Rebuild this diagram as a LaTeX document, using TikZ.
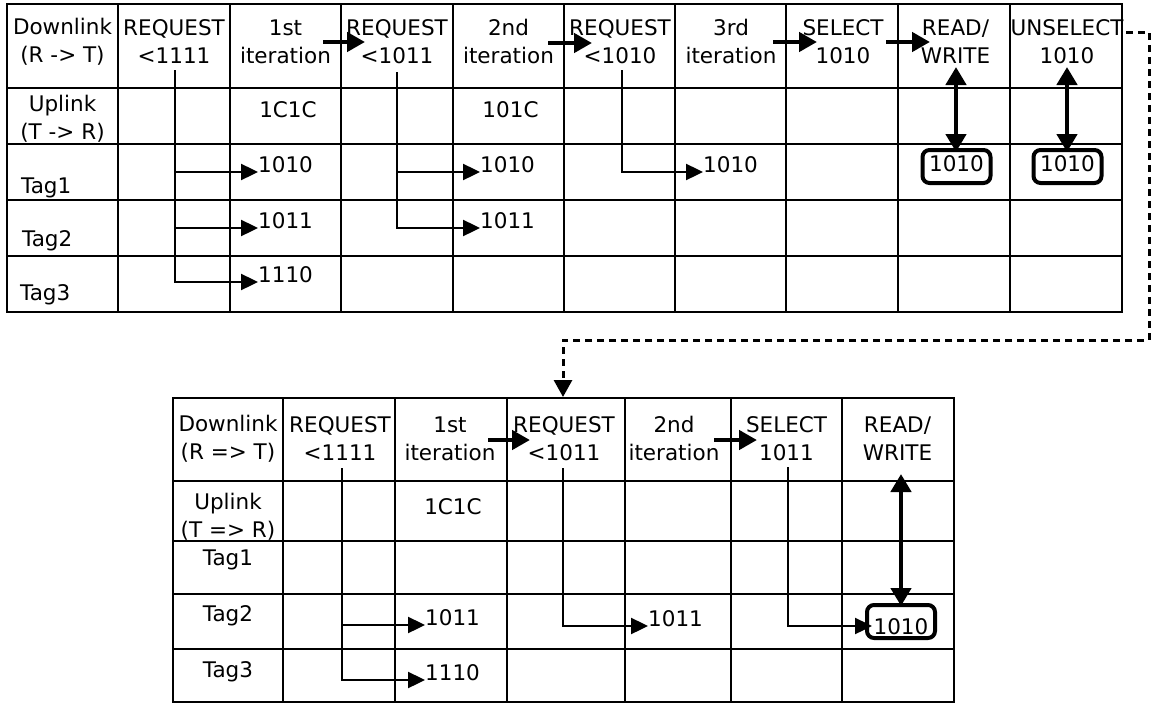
\documentclass[tikz,border=0pt]{standalone}
\usepackage{fontspec}
\setmainfont{DejaVu Sans}
\usetikzlibrary{arrows.meta,calc}
\begin{document}
\begin{tikzpicture}[x=1pt,y=-1pt,
  grid/.style={line width=2.4pt, line cap=rect},
  txt/.style={inner sep=0pt, align=center, font=\fontsize{21.5}{28}\selectfont},
  conn/.style={line width=2.4pt, -{Triangle[length=17pt,width=16pt]}},
  hdarrow/.style={line width=4.5pt, -{Triangle[length=18pt,width=19pt]}},
  dblarrow/.style={line width=4.5pt, {Triangle[length=18pt,width=20pt]}-{Triangle[length=18pt,width=20pt]}},
  valbox/.style={draw, line width=4pt, rounded corners=7pt, minimum width=68pt, minimum height=33pt, inner sep=0pt, font=\fontsize{21.5}{28}\selectfont},
  dashedconn/.style={line width=3pt, dash pattern=on 7pt off 5pt, -{Triangle[length=17pt,width=18pt]}}
]
\useasboundingbox (0,0) rectangle (1152,704);

% ---------- top table grid ----------
\foreach \x in {7,118,230,341,453,564,675,786,898,1010,1122} \draw[grid] (\x,4) -- (\x,312);
\foreach \y in {4,88,144,200,256,312} \draw[grid] (7,\y) -- (1122,\y);

% header row
\node[txt] (d1) at (62.5,41.5) {Downlink\\(R -> T)};
\node[txt] (r1) at (174,41.5) {REQUEST\\<1111};
\node[txt] (i1) at (285.5,41.5) {1st\\iteration};
\node[txt] (r2) at (397,41.5) {REQUEST\\<1011};
\node[txt] (i2) at (508.5,41.5) {2nd\\iteration};
\node[txt] (r3) at (620,41.5) {REQUEST\\<1010};
\node[txt] (i3) at (731,41.5) {3rd\\iteration};
\node[txt] (s1) at (843,41.5) {SELECT\\1010};
\node[txt] (rw1) at (955.5,41.5) {READ/\\WRITE};
\node[txt] (u1) at (1067,41.5) {UNSELECT\\1010};

% uplink row
\node[txt] (ul1) at (62.5,118.5) {Uplink\\(T -> R)};
\node[txt] (up1) at (288,110) {1C1C};
\node[txt] (up2) at (510.5,110) {101C};

% tags
\node[txt, anchor=base west] (tag1) at (21,193) {Tag1};
\node[txt, anchor=base west] (tag2) at (22,246) {Tag2};
\node[txt, anchor=base west] (tag3) at (20,300) {Tag3};

% header arrows
\coordinate (h1s) at (323,42); \coordinate (h1e) at (365,42);
\coordinate (h2s) at (548,43); \coordinate (h2e) at (592,43);
\coordinate (h3s) at (773,42); \coordinate (h3e) at (817,42);
\coordinate (h4s) at (886,42); \coordinate (h4e) at (930,42);
\draw[hdarrow] (h1s) -- (h1e);
\draw[hdarrow] (h2s) -- (h2e);
\draw[hdarrow] (h3s) -- (h3e);
\draw[hdarrow] (h4s) -- (h4e);

% request <1111 branches
\coordinate (q1) at (175,70);
\node[txt, anchor=base west] (a11) at (258,172) {1010};
\node[txt, anchor=base west] (a12) at (258,228) {1011};
\node[txt, anchor=base west] (a13) at (258,282) {1110};
\draw[conn] (q1) |- (a13.base west);
\draw[conn] (q1 |- a11.base west) -- (a11.base west);
\draw[conn] (q1 |- a12.base west) -- (a12.base west);

% request <1011 branches
\coordinate (q2) at (397,72);
\node[txt, anchor=base west] (a21) at (480,172) {1010};
\node[txt, anchor=base west] (a22) at (480,228) {1011};
\draw[conn] (q2) |- (a22.base west);
\draw[conn] (q2 |- a21.base west) -- (a21.base west);

% request <1010 branch
\coordinate (q3) at (622,70);
\node[txt, anchor=base west] (a31) at (703,172) {1010};
\draw[conn] (q3) |- (a31.base west);

% selected tag boxes
\node[valbox, text height=9pt, text depth=0pt] (b1) at (956.5,166.5) {1010};
\node[valbox, text height=9pt, text depth=0pt] (b2) at (1067.5,166.5) {1010};
\coordinate (rwa) at (956,67);
\coordinate (ua) at (1067,67);
\draw[dblarrow, shorten >=-4pt] (rwa) -- (rwa |- b1.north);
\draw[dblarrow, shorten >=-4pt] (ua) -- (ua |- b2.north);

% ---------- bottom table grid ----------
\foreach \x in {173,283,395,507,625,731,842,954} \draw[grid] (\x,398) -- (\x,702);
\foreach \y in {398,481,541,594,649,702} \draw[grid] (173,\y) -- (954,\y);

\node[txt] (d2) at (228,438.5) {Downlink\\(R => T)};
\node[txt] (r4) at (340,438.5) {REQUEST\\<1111};
\node[txt] (i4) at (450,438.5) {1st\\iteration};
\node[txt] (r5) at (564,438.5) {REQUEST\\<1011};
\node[txt] (i5) at (674,438.5) {2nd\\iteration};
\node[txt] (s2) at (786.5,438.5) {SELECT\\1011};
\node[txt] (rw2) at (897.5,438.5) {READ/\\WRITE};

\node[txt] (ul2) at (228,516.5) {Uplink\\(T => R)};
\node[txt] (up3) at (453,507) {1C1C};

\node[txt, anchor=base] (tag4) at (228,565) {Tag1};
\node[txt, anchor=base] (tag5) at (228,621) {Tag2};
\node[txt, anchor=base] (tag6) at (228,677) {Tag3};

\coordinate (h5s) at (488,440); \coordinate (h5e) at (530,440);
\coordinate (h6s) at (714,440); \coordinate (h6e) at (757,440);
\draw[hdarrow] (h5s) -- (h5e);
\draw[hdarrow] (h6s) -- (h6e);

\coordinate (q4) at (342,468);
\node[txt, anchor=base west] (b41) at (425,625) {1011};
\node[txt, anchor=base west] (b42) at (425,680) {1110};
\draw[conn] (q4) |- (b42.base west);
\draw[conn] (q4 |- b41.base west) -- (b41.base west);

\coordinate (q5) at (563,468);
\node[txt, anchor=base west] (b51) at (648,626) {1011};
\draw[conn] (q5) |- (b51.base west);

\node[valbox, text height=26pt, text depth=0pt] (b3) at (901,621.5) {1010};
\coordinate (q6) at (788,467);
\draw[conn, shorten >=-7pt] (q6) |- ($(b3.west)+(0,4.5)$);
\coordinate (rwb) at (901,474);
\draw[dblarrow, shorten >=-3pt] (rwb) -- (rwb |- b3.north);

% ---------- dashed link between tables ----------
\coordinate (dA) at (1126,32);
\coordinate (dB) at (563,397);
\draw[dashedconn] (dA) -- (1149,32) -- (1149,340) -- (563,340) -- (dB);
\end{tikzpicture}
\end{document}
